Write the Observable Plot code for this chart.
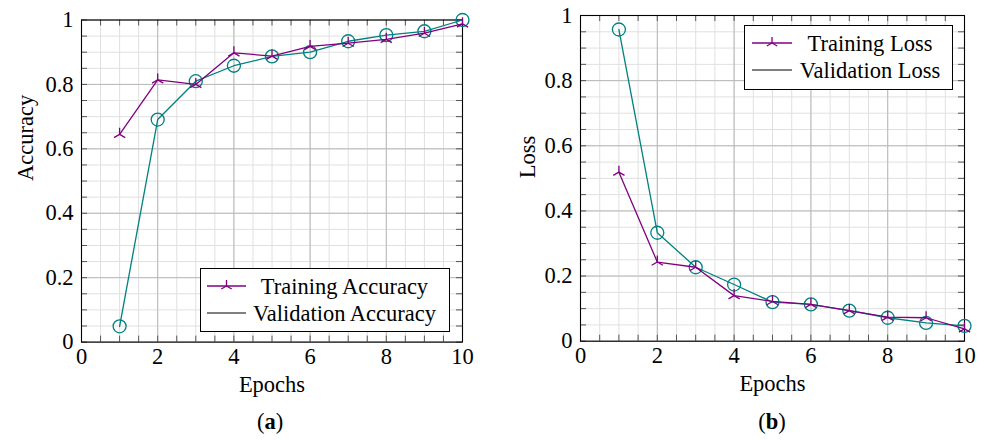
<!DOCTYPE html>
<html><head><meta charset="utf-8">
<script src="https://cdn.jsdelivr.net/npm/d3@7"></script>
<script src="https://cdn.jsdelivr.net/npm/@observablehq/plot@0.6"></script>
<style>
body{margin:0;background:#fff;}
#wrap{position:relative;width:985px;height:441px;overflow:hidden;}
.panel{position:absolute;top:0;}
#overlay{position:absolute;left:0;top:0;pointer-events:none;}
</style></head><body><div id="wrap"></div>
<script>
const epochs = [1, 2, 3, 4, 5, 6, 7, 8, 9, 10];
const trainAcc = [0.645, 0.814, 0.800, 0.898, 0.888, 0.918, 0.928, 0.940, 0.959, 0.988];
const valAcc = [0.049, 0.691, 0.810, 0.858, 0.887, 0.900, 0.934, 0.953, 0.965, 1.000];
const trainLoss = [0.519, 0.243, 0.227, 0.140, 0.122, 0.113, 0.094, 0.074, 0.072, 0.038];
const valLoss = [0.957, 0.333, 0.227, 0.174, 0.120, 0.113, 0.094, 0.072, 0.056, 0.047];
const xTicks = [0, 2, 4, 6, 8, 10];
const yTicks = [0, 0.2, 0.4, 0.6, 0.8, 1];
const yTickLabels = ["0", "0.2", "0.4", "0.6", "0.8", "1"];
const minorX = d3.range(0, 10.001, 0.5);
const minorY = d3.range(0, 1.0001, 0.05);

const PURPLE = "#800080", TEAL = "#008080";
const FONT = "'Liberation Serif', 'Times New Roman', serif";
const FS = 22.5;

const triStar = {
  draw(ctx, size) {
    const r = Math.sqrt(size / Math.PI);
    const c = Math.cos(Math.PI / 6), s = Math.sin(Math.PI / 6);
    ctx.moveTo(0, 0); ctx.lineTo(0, -r);
    ctx.moveTo(0, 0); ctx.lineTo(-r * c, r * s);
    ctx.moveTo(0, 0); ctx.lineTo(r * c, r * s);
  }
};

function panel({left, width, height, mL, mR, mT, mB, yLabel, labelDx, train, val}) {
  const plotW = width - mL - mR, plotH = height - mT - mB;
  const trainData = epochs.map((e, i) => ({e, v: train[i]}));
  const valData = epochs.map((e, i) => ({e, v: val[i]}));
  const chart = Plot.plot({
    width, height, marginLeft: mL, marginRight: mR, marginTop: mT, marginBottom: mB,
    x: {domain: [0, 10]}, y: {domain: [0, 1]},
    style: {fontFamily: FONT, fontSize: FS + "px", color: "#000", background: "#fff"},
    marks: [
      Plot.ruleX(minorX, {stroke: "#e0e0e0", strokeWidth: 1}),
      Plot.ruleY(minorY, {stroke: "#e0e0e0", strokeWidth: 1}),
      Plot.ruleX(xTicks, {stroke: "#b8b8b8", strokeWidth: 1}),
      Plot.ruleY(yTicks, {stroke: "#b8b8b8", strokeWidth: 1}),
      Plot.tickX(minorX, {x: d => d, stroke: "#555", insetTop: plotH - 6}),
      Plot.tickX(minorX, {x: d => d, stroke: "#555", insetBottom: plotH - 6}),
      Plot.tickY(minorY, {y: d => d, stroke: "#555", insetRight: plotW - 6}),
      Plot.tickY(minorY, {y: d => d, stroke: "#555", insetLeft: plotW - 6}),
      Plot.axisX(xTicks, {tickSize: 0, tickPadding: 6, label: null, fontSize: FS}),
      Plot.axisY(yTicks, {tickSize: 0, tickPadding: 8, label: null, fontSize: FS,
        tickFormat: d => yTickLabels[yTicks.indexOf(d)]}),
      Plot.text(["Epochs"], {frameAnchor: "bottom", dy: 50, fontSize: FS}),
      Plot.text([yLabel], {frameAnchor: "left", rotate: -90, dx: labelDx, fontSize: FS}),
      Plot.frame({stroke: "#000", strokeWidth: 1.1}),
      Plot.line(valData, {x: "e", y: "v", stroke: TEAL, strokeWidth: 1.3}),
      Plot.dot(valData, {x: "e", y: "v", r: 6.5, stroke: TEAL, fill: "none", strokeWidth: 1.3}),
      Plot.line(trainData, {x: "e", y: "v", stroke: PURPLE, strokeWidth: 1.3}),
      Plot.dot(trainData, {x: "e", y: "v", symbol: triStar, r: 6.5, stroke: PURPLE, fill: "none", strokeWidth: 1.3})
    ]
  });
  chart.classList.add("panel");
  chart.style.left = left + "px";
  return chart;
}

const wrap = document.getElementById("wrap");
wrap.appendChild(panel({left: 0, width: 492, height: 441, mL: 81, mR: 30, mT: 19.5, mB: 99.4,
  yLabel: "Accuracy", labelDx: -56, train: trainAcc, val: valAcc}));
wrap.appendChild(panel({left: 492, width: 493, height: 441, mL: 88, mR: 21, mT: 15, mB: 100.3,
  yLabel: "Loss", labelDx: -52.5, train: trainLoss, val: valLoss}));

// Overlay: legends and captions
const ov = d3.select(wrap).append("svg").attr("id", "overlay").attr("width", 985).attr("height", 441)
  .style("font-family", FONT).style("font-size", FS + "px");

function legend(x, y, w, h, names, lineX0, lineX1, textCx) {
  const g = ov.append("g").attr("transform", `translate(${x},${y})`);
  g.append("rect").attr("x", 0.5).attr("y", 0.5).attr("width", w).attr("height", h)
    .attr("fill", "#fff").attr("stroke", "#000").attr("stroke-width", 1);
  const rows = [18, 45];
  g.append("line").attr("x1", lineX0).attr("x2", lineX1).attr("y1", rows[0]).attr("y2", rows[0])
    .attr("stroke", PURPLE).attr("stroke-width", 1.3);
  const cx = (lineX0 + lineX1) / 2, r = 6, c = Math.cos(Math.PI / 6), s = Math.sin(Math.PI / 6);
  g.append("path").attr("d", `M${cx},${rows[0]}l0,${-r}M${cx},${rows[0]}l${-r * c},${r * s}M${cx},${rows[0]}l${r * c},${r * s}`)
    .attr("stroke", PURPLE).attr("stroke-width", 1.3).attr("fill", "none");
  g.append("line").attr("x1", lineX0).attr("x2", lineX1).attr("y1", rows[1]).attr("y2", rows[1])
    .attr("stroke", "#000").attr("stroke-width", 1);
  names.forEach((n, i) => {
    g.append("text").attr("x", textCx).attr("y", rows[i] + 7.5).attr("text-anchor", "middle").text(n);
  });
}
legend(200, 268, 249, 63, ["Training Accuracy", "Validation Accuracy"], 7, 46, 144.5);
legend(744, 25, 208, 64, ["Training Loss", "Validation Loss"], 8, 48, 126);

function caption(cx, letter) {
  const t = ov.append("text").attr("x", cx).attr("y", 429).attr("text-anchor", "middle");
  t.append("tspan").text("(");
  t.append("tspan").attr("font-weight", "bold").text(letter);
  t.append("tspan").text(")");
}
caption(270, "a");
caption(772, "b");
</script>
</body></html>
